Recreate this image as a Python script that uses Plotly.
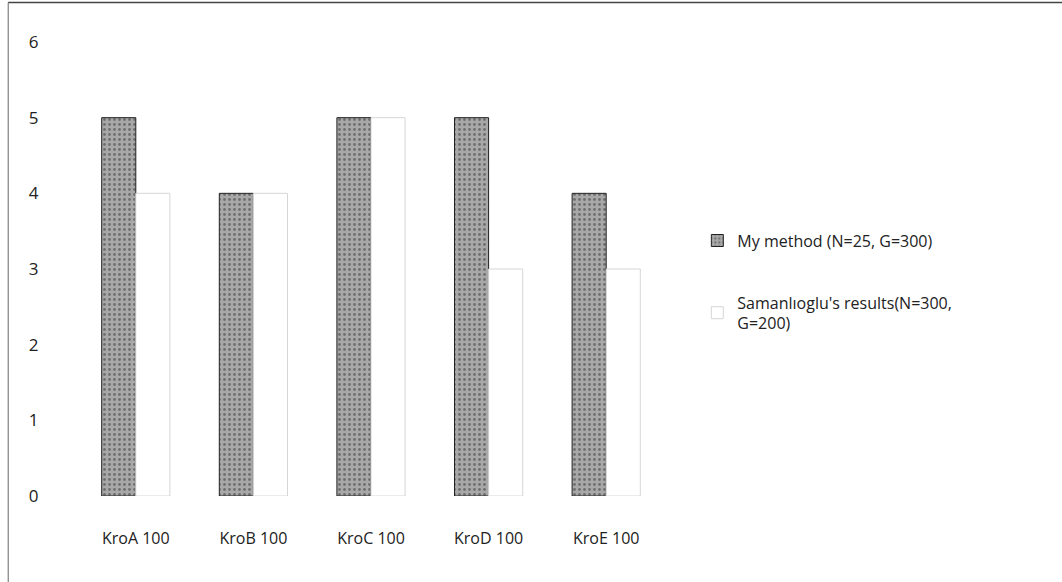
import plotly.graph_objects as go

categories = ["KroA 100", "KroB 100", "KroC 100", "KroD 100", "KroE 100"]
my_method = [5, 4, 5, 5, 4]
samanlioglu = [4, 4, 5, 3, 3]
series_names = ["My method (N=25, G=300)", "Samanlıoglu's results(N=300,<br>G=200)"]
y_ticks = [0, 1, 2, 3, 4, 5, 6]

font_family = "Open Sans, Liberation Sans, sans-serif"

fig = go.Figure()
fig.add_trace(go.Bar(
    x=categories, y=my_method, name=series_names[0],
    marker=dict(color="#a3a3a3", line=dict(color="#222222", width=1),
                pattern=dict(shape=".", fgcolor="#333333", bgcolor="#a8a8a8", size=5, solidity=0.25)),
    legendgroup="a",
))
fig.add_trace(go.Bar(
    x=categories, y=samanlioglu, name=series_names[1],
    marker=dict(color="#ffffff", line=dict(color="#d6d6d6", width=1)),
    legendgroup="b",
))

fig.update_layout(
    width=1062, height=582,
    paper_bgcolor="white", plot_bgcolor="white",
    margin=dict(l=77, r=397, t=42, b=86),
    barmode="group", bargap=0.42, bargroupgap=0,
    font=dict(family=font_family, size=16, color="#222222"),
    showlegend=True,
    legend=dict(x=1.055, y=0.6, xanchor="left", yanchor="top",
                traceorder="grouped", tracegroupgap=38,
                font=dict(size=16, color="#222222"), bgcolor="rgba(0,0,0,0)"),
    xaxis=dict(showgrid=False, showline=False, zeroline=False,
               ticks="outside", ticklen=28, tickcolor="rgba(0,0,0,0)",
               tickfont=dict(size=16)),
    yaxis=dict(range=[0, 6], tickvals=y_ticks, showgrid=False, showline=False,
               zeroline=False, ticks="outside", ticklen=34, tickcolor="rgba(0,0,0,0)",
               tickfont=dict(size=17)),
    shapes=[
        dict(type="line", xref="paper", yref="paper", x0=-0.117, x1=1.7, y0=1.087, y1=1.087,
             line=dict(color="#444444", width=1.5)),
        dict(type="line", xref="paper", yref="paper", x0=-0.117, x1=-0.117, y0=-0.2, y1=1.087,
             line=dict(color="#666666", width=1)),
    ],
)

fig.write_html("out.html")
